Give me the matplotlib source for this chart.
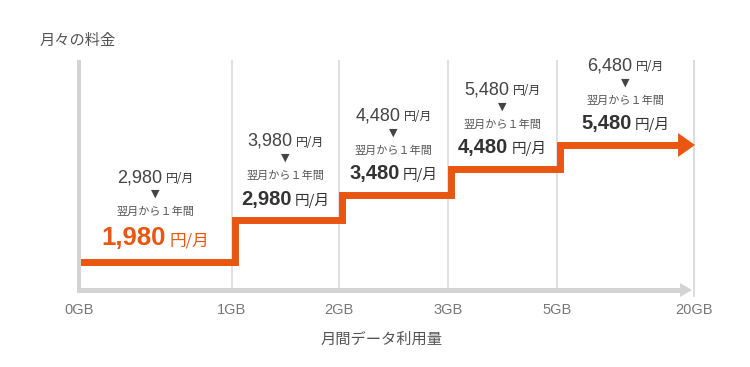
import matplotlib
matplotlib.use("Agg")
import matplotlib.pyplot as plt
import numpy as np
from matplotlib.offsetbox import AnnotationBbox, HPacker, TextArea

plt.rcParams["font.family"] = ["Noto Sans CJK JP", "DejaVu Sans"]

# data
GB_LABELS = ["0GB", "1GB", "2GB", "3GB", "5GB", "20GB"]
REGULAR_PRICE = [2980, 3980, 4480, 5480, 6480]
PROMO_PRICE = [1980, 2980, 3480, 4480, 5480]
PROMO_NOTE = "翌月から１年間"
UNIT = "円/月"
TITLE = "月々の料金"
XLABEL = "月間データ利用量"

# layout, in pixels of the reference (x from the y axis, y up from the x axis)
TICK_X = [0, 153, 260, 369, 478, 615]
STEP_Y = [28, 70, 95, 121, 145]
Y_TOP = 230
RISE_SHIFT = 2.5
HEAD_PX = 17
GRAY_HEAD_PX = 12

ORANGE = "#E8560F"
AXIS_GRAY = "#d3d3d3"
GRID_GRAY = "#d9d9d9"
NUM_FONT = ["Liberation Sans", "DejaVu Sans"]
CJK_FONT = ["Noto Sans CJK JP", "DejaVu Sans"]
PX = 0.72  # points per pixel at dpi 100

W, H = 750, 367
fig = plt.figure(figsize=(W / 100, H / 100), dpi=100)
ax = fig.add_axes([79 / W, (H - 290) / H, 615 / W, Y_TOP / H])
ax.set_xlim(TICK_X[0], TICK_X[-1])
ax.set_ylim(0, Y_TOP)
for s in ax.spines.values():
    s.set_visible(False)
ax.set_yticks([])
ax.set_xticks(TICK_X, GB_LABELS)
ax.tick_params(axis="x", length=0, pad=9, labelsize=10.5, labelcolor="#777777")
for lab in ax.get_xticklabels():
    lab.set_fontfamily(NUM_FONT)

# grid lines and axes
ax.vlines(TICK_X[1:-1], 0, Y_TOP, color=GRID_GRAY, lw=1.1, zorder=1)
ax.vlines(TICK_X[-1], -7, Y_TOP, color=GRID_GRAY, lw=1.3, zorder=1, clip_on=False)
ax.vlines(TICK_X[0], -2.5, Y_TOP, color=AXIS_GRAY, lw=2.9, zorder=4, clip_on=False)
ax.plot([TICK_X[0], TICK_X[-1] - 2 - GRAY_HEAD_PX + 1], [0, 0], color=AXIS_GRAY,
        lw=3.6, solid_capstyle="butt", zorder=2, clip_on=False)
ax.annotate("", xy=(TICK_X[-1] - 2, 0), xytext=(TICK_X[0], 0),
            arrowprops=dict(arrowstyle="-|>,head_length=0.86,head_width=0.5",
                            color=AXIS_GRAY, lw=0, shrinkA=0, shrinkB=0,
                            mutation_scale=10),
            annotation_clip=False, zorder=2)

# price step line
bx = np.array(TICK_X[1:-1]) + RISE_SHIFT
sx = np.concatenate([[TICK_X[0]], np.repeat(bx, 2), [TICK_X[-1] - HEAD_PX + 1]])
sy = np.repeat(STEP_Y, 2)
ax.plot(sx, sy, color=ORANGE, lw=5, solid_joinstyle="miter",
        solid_capstyle="butt", zorder=3, clip_on=False)
ax.annotate("", xy=(TICK_X[-1] + 1, STEP_Y[-1]), xytext=(TICK_X[0], STEP_Y[-1]),
            arrowprops=dict(arrowstyle="-|>,head_length=1.22,head_width=0.86",
                            color=ORANGE, lw=0, shrinkA=0, shrinkB=0,
                            mutation_scale=10),
            annotation_clip=False, zorder=3)


def price_box(x, y, dy, number, num_kw, unit_kw):
    box = HPacker(children=[TextArea(number, textprops=num_kw),
                            TextArea(UNIT, textprops=unit_kw)],
                  align="baseline", pad=0, sep=2.5)
    ab = AnnotationBbox(box, (x, y), xybox=(0, dy * PX), xycoords="data",
                        boxcoords="offset points", frameon=False, pad=0,
                        box_alignment=(0.5, 0.5), annotation_clip=False)
    ax.add_artist(ab)


old_num = dict(fontsize=13, color="#444444", family=NUM_FONT)
old_unit = dict(fontsize=8.5, color="#333333", family=CJK_FONT)
new_num = dict(fontsize=14.5, color="#333333", family=NUM_FONT, fontweight="bold")
new_unit = dict(fontsize=10.5, color="#333333", family=CJK_FONT)
first_num = dict(fontsize=18.5, color=ORANGE, family=NUM_FONT, fontweight="bold")
first_unit = dict(fontsize=12, color=ORANGE, family=CJK_FONT)

for i, (reg, promo) in enumerate(zip(REGULAR_PRICE, PROMO_PRICE)):
    cx = (TICK_X[i] + TICK_X[i + 1]) / 2
    lvl = STEP_Y[i]
    if i == 0:
        offs = (84, 68, 50, 24)
        nk, uk = first_num, first_unit
    else:
        offs = (79, 62, 44, 21)
        nk, uk = new_num, new_unit
    price_box(cx, lvl, offs[0], f"{reg:,}", old_num, old_unit)
    ax.annotate("▼", (cx, lvl), xytext=(0, offs[1] * PX), textcoords="offset points",
                ha="center", va="center", fontsize=8, color="#444444",
                family=["DejaVu Sans"], annotation_clip=False)
    ax.annotate(PROMO_NOTE, (cx, lvl), xytext=(0, offs[2] * PX),
                textcoords="offset points", ha="center", va="center",
                fontsize=8, color="#555555", annotation_clip=False)
    price_box(cx, lvl, offs[3], f"{promo:,}", nk, uk)

fig.text(40 / W, 1 - 40 / H, TITLE, fontsize=11, color="#555555",
         ha="left", va="center")
ax.set_xlabel(XLABEL, fontsize=11, color="#555555")
ax.xaxis.set_label_coords((382 - 79) / 615, (290 - 339) / Y_TOP)
ax.xaxis.label.set_va("center")

fig.savefig("out.png", dpi=100)
